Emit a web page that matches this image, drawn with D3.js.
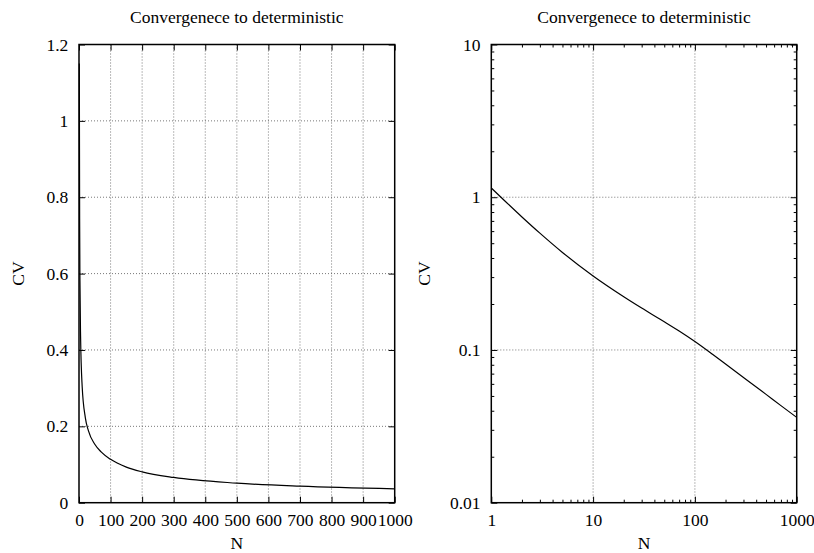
<!DOCTYPE html>
<html>
<head>
<meta charset="utf-8">
<script src="https://cdn.jsdelivr.net/npm/d3@7"></script>
<style>
body { margin: 0; background: #fff; }
</style>
</head>
<body>
<div id="chart"></div>
<script>
// values
const nValues  = [1, 2, 3, 5, 10, 20, 30, 50, 70, 100, 150, 200, 300, 500, 700, 1000];
const cvValues = [1.15, 0.743, 0.582, 0.435, 0.305, 0.223, 0.188, 0.153, 0.133, 0.1135, 0.0933, 0.0809, 0.0661, 0.0512, 0.0432, 0.0362];

const linXTicks = [0, 100, 200, 300, 400, 500, 600, 700, 800, 900, 1000];
const linYTicks = [0, 0.2, 0.4, 0.6, 0.8, 1, 1.2];
const logXTicks = [1, 10, 100, 1000];
const logYTicks = [0.01, 0.1, 1, 10];

const titleText = "Convergenece to deterministic";
const xLabel = "N", yLabel = "CV";

const width = 814, height = 553;
const plotTop = 44.5, plotBottom = 502.7;
const font = "'Liberation Serif', 'Times New Roman', serif";
const fontSize = 17.5;

const data = nValues.map((n, i) => [n, cvValues[i]]);

const svg = d3.select("#chart").append("svg")
    .attr("width", width)
    .attr("height", height);

function panel(x, y, xTicks, yTicks, logScale, yLabelX) {
    const g = svg.append("g");
    const [x0, x1] = x.range();

    // grid
    g.selectAll(".gx")
        .data(xTicks.slice(1, -1))
        .enter().append("line")
        .attr("x1", d => x(d)).attr("x2", d => x(d))
        .attr("y1", plotTop).attr("y2", plotBottom)
        .attr("stroke", "#555").attr("stroke-width", 0.8)
        .attr("stroke-dasharray", "1,2");
    g.selectAll(".gy")
        .data(yTicks.slice(1, -1))
        .enter().append("line")
        .attr("x1", x0).attr("x2", x1)
        .attr("y1", d => y(d)).attr("y2", d => y(d))
        .attr("stroke", "#555").attr("stroke-width", 0.8)
        .attr("stroke-dasharray", "1,2");

    const fmt = d => String(d);
    const axes = [
        [d3.axisBottom(x).tickValues(xTicks).tickFormat(fmt).tickPadding(11), `translate(0,${plotBottom})`],
        [d3.axisTop(x).tickValues(xTicks).tickFormat(""), `translate(0,${plotTop})`],
        [d3.axisLeft(y).tickValues(yTicks).tickFormat(fmt).tickPadding(10.7), `translate(${x0},0)`],
        [d3.axisRight(y).tickValues(yTicks).tickFormat(""), `translate(${x1},0)`]
    ];
    axes.forEach(([ax, tr]) => {
        const a = g.append("g")
            .attr("transform", tr)
            .call(ax.tickSize(-6).tickSizeOuter(0));
        a.select(".domain").remove();
        a.selectAll("line").attr("stroke", "#000").attr("stroke-width", 1);
        a.selectAll("text")
            .attr("font-family", font)
            .attr("font-size", fontSize)
            .attr("fill", "#000");
        a.attr("font-family", null).attr("font-size", null);
    });

    if (logScale) {
        const xMinor = x.ticks().filter(d => !xTicks.includes(d));
        const yMinor = y.ticks().filter(d => !yTicks.some(t => Math.abs(t - d) < 1e-9));
        const minors = [
            [d3.axisBottom(x).tickValues(xMinor), `translate(0,${plotBottom})`],
            [d3.axisTop(x).tickValues(xMinor), `translate(0,${plotTop})`],
            [d3.axisLeft(y).tickValues(yMinor), `translate(${x0},0)`],
            [d3.axisRight(y).tickValues(yMinor), `translate(${x1},0)`]
        ];
        minors.forEach(([ax, tr]) => {
            const a = g.append("g")
                .attr("transform", tr)
                .call(ax.tickFormat("").tickSize(-3).tickSizeOuter(0));
            a.select(".domain").remove();
            a.selectAll("line").attr("stroke", "#000").attr("stroke-width", 1);
        });
    }

    // frame
    g.append("rect")
        .attr("x", x0).attr("y", plotTop)
        .attr("width", x1 - x0).attr("height", plotBottom - plotTop)
        .attr("fill", "none")
        .attr("stroke", "#000")
        .attr("stroke-width", 1.5);

    // curve
    const line = d3.line()
        .x(d => x(d[0]))
        .y(d => y(d[1]))
        .curve(d3.curveMonotoneX);
    g.append("path")
        .datum(data)
        .attr("fill", "none")
        .attr("stroke", "#000")
        .attr("stroke-width", 1.2)
        .attr("d", line);

    // labels
    const cx = (x0 + x1) / 2;
    g.append("text")
        .attr("x", cx).attr("y", 23)
        .attr("text-anchor", "middle")
        .attr("font-family", font).attr("font-size", fontSize)
        .text(titleText);
    g.append("text")
        .attr("x", cx).attr("y", 549)
        .attr("text-anchor", "middle")
        .attr("font-family", font).attr("font-size", fontSize)
        .text(xLabel);
    g.append("text")
        .attr("transform", `translate(${yLabelX},${(plotTop + plotBottom) / 2}) rotate(-90)`)
        .attr("text-anchor", "middle")
        .attr("font-family", font).attr("font-size", fontSize)
        .text(yLabel);
}

const xLin = d3.scaleLinear().domain([0, 1000]).range([79, 394.7]);
const yLin = d3.scaleLinear().domain([0, 1.2]).range([plotBottom, plotTop]);
panel(xLin, yLin, linXTicks, linYTicks, false, 24);

const xLog = d3.scaleLog().domain([1, 1000]).range([491.3, 796.7]);
const yLog = d3.scaleLog().domain([0.01, 10]).range([plotBottom, plotTop]);
panel(xLog, yLog, logXTicks, logYTicks, true, 430);
</script>
</body>
</html>
